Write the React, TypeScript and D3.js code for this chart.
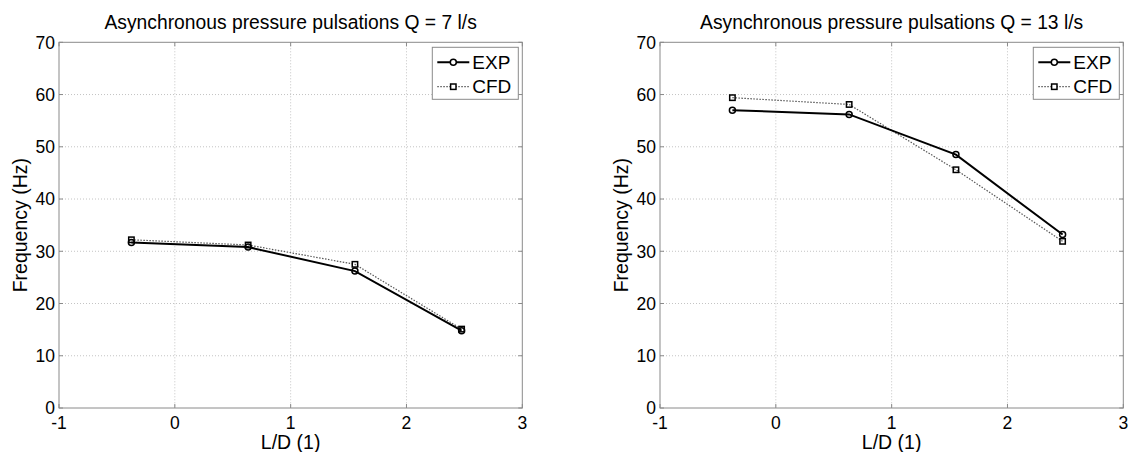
import React from "react";
import * as d3 from "d3";

// Measurement positions along the draft tube (L/D) and the dominant
// asynchronous pulsation frequencies measured (EXP) and computed (CFD).
const positions = [-0.375, 0.633, 1.555, 2.476];
const exp7 = [31.7, 30.8, 26.2, 14.8];
const cfd7 = [32.2, 31.2, 27.5, 15.1];
const exp13 = [57.0, 56.2, 48.5, 33.2];
const cfd13 = [59.4, 58.1, 45.6, 31.9];

const xTicks = [-1, 0, 1, 2, 3];
const yTicks = [0, 10, 20, 30, 40, 50, 60, 70];
const seriesNames = ["EXP", "CFD"];
const panelTitles = [
  "Asynchronous pressure pulsations Q = 7 l/s",
  "Asynchronous pressure pulsations Q = 13 l/s",
];

const W = 1130;
const H = 452;
const FONT = "'Liberation Sans', Arial, Helvetica, sans-serif";
const AXIS_COLOR = "#8a8a8a";
const GRID_COLOR = "#c4c4c4";
const TICK_FONT = 17.5;
const LABEL_FONT = 19.5;
const LEGEND_FONT = 19;

type PanelProps = {
  left: number;
  title: string;
  exp: number[];
  cfd: number[];
};

function Panel({ left, title, exp, cfd }: PanelProps) {
  const top = 42.3;
  const bottom = 408;
  const right = left + 463.3;

  const x = d3.scaleLinear().domain([-1, 3]).range([left, right]);
  const y = d3.scaleLinear().domain([0, 70]).range([bottom, top]);

  const line = d3
    .line<[number, number]>()
    .x((d) => x(d[0]))
    .y((d) => y(d[1]));

  const expPts = positions.map((p, i) => [p, exp[i]] as [number, number]);
  const cfdPts = positions.map((p, i) => [p, cfd[i]] as [number, number]);

  const tickLen = 4;
  const cx = (left + right) / 2;
  const cy = (top + bottom) / 2;

  // legend box anchored to the upper right corner of the axes
  const lgW = 86;
  const lgH = 52;
  const lgX = right - 4 - lgW;
  const lgY = top + 5;

  return (
    <g>
      {/* grid */}
      {xTicks.slice(1, -1).map((t) => (
        <line
          key={"gx" + t}
          x1={x(t)}
          x2={x(t)}
          y1={top}
          y2={bottom}
          stroke={GRID_COLOR}
          strokeWidth={1}
          strokeDasharray="1,2"
        />
      ))}
      {yTicks.slice(1, -1).map((t) => (
        <line
          key={"gy" + t}
          x1={left}
          x2={right}
          y1={y(t)}
          y2={y(t)}
          stroke={GRID_COLOR}
          strokeWidth={1}
          strokeDasharray="1,2"
        />
      ))}

      {/* axes box */}
      <rect
        x={left}
        y={top}
        width={right - left}
        height={bottom - top}
        fill="none"
        stroke={AXIS_COLOR}
        strokeWidth={1}
      />

      {/* inward ticks on all four sides */}
      {xTicks.map((t) => (
        <g key={"tx" + t}>
          <line x1={x(t)} x2={x(t)} y1={bottom} y2={bottom - tickLen} stroke={AXIS_COLOR} />
          <line x1={x(t)} x2={x(t)} y1={top} y2={top + tickLen} stroke={AXIS_COLOR} />
          <text
            x={x(t)}
            y={428.5}
            textAnchor="middle"
            fontSize={TICK_FONT}
            fontFamily={FONT}
            fill="#000"
          >
            {t}
          </text>
        </g>
      ))}
      {yTicks.map((t) => (
        <g key={"ty" + t}>
          <line x1={left} x2={left + tickLen} y1={y(t)} y2={y(t)} stroke={AXIS_COLOR} />
          <line x1={right} x2={right - tickLen} y1={y(t)} y2={y(t)} stroke={AXIS_COLOR} />
          <text
            x={left - 4}
            y={y(t)}
            dy="0.36em"
            textAnchor="end"
            fontSize={TICK_FONT}
            fontFamily={FONT}
            fill="#000"
          >
            {t}
          </text>
        </g>
      ))}

      {/* series */}
      <path
        d={line(cfdPts) ?? ""}
        fill="none"
        stroke="#555"
        strokeWidth={1.2}
        strokeDasharray="1.5,1.5"
      />
      <path d={line(expPts) ?? ""} fill="none" stroke="#000" strokeWidth={2} />
      {cfdPts.map((d, i) => (
        <rect
          key={"cm" + i}
          x={x(d[0]) - 2.7}
          y={y(d[1]) - 2.7}
          width={5.4}
          height={5.4}
          fill="none"
          stroke="#000"
          strokeWidth={1.5}
        />
      ))}
      {expPts.map((d, i) => (
        <circle
          key={"em" + i}
          cx={x(d[0])}
          cy={y(d[1])}
          r={3}
          fill="none"
          stroke="#000"
          strokeWidth={1.5}
        />
      ))}

      {/* labels */}
      <text
        x={cx}
        y={28.5}
        textAnchor="middle"
        fontSize={19.3}
        fontFamily={FONT}
        fill="#000"
      >
        {title}
      </text>
      <text
        x={cx}
        y={449}
        textAnchor="middle"
        fontSize={LABEL_FONT}
        fontFamily={FONT}
        fill="#000"
      >
        L/D (1)
      </text>
      <text
        transform={`translate(${left - 32.3},${cy}) rotate(-90)`}
        textAnchor="middle"
        fontSize={LABEL_FONT}
        fontFamily={FONT}
        fill="#000"
      >
        Frequency (Hz)
      </text>

      {/* legend */}
      <rect x={lgX} y={lgY} width={lgW} height={lgH} fill="#fff" stroke={AXIS_COLOR} strokeWidth={1} />
      <line x1={lgX + 5} x2={lgX + 37} y1={lgY + 15} y2={lgY + 15} stroke="#000" strokeWidth={2} />
      <circle cx={lgX + 21} cy={lgY + 15} r={3} fill="#fff" stroke="#000" strokeWidth={1.5} />
      <text x={lgX + 40} y={lgY + 21.7} fontSize={LEGEND_FONT} fontFamily={FONT} fill="#000">
        {seriesNames[0]}
      </text>
      <line
        x1={lgX + 5}
        x2={lgX + 37}
        y1={lgY + 39.4}
        y2={lgY + 39.4}
        stroke="#555"
        strokeWidth={1.2}
        strokeDasharray="1.5,1.5"
      />
      <rect x={lgX + 18.3} y={lgY + 36.7} width={5.4} height={5.4} fill="#fff" stroke="#000" strokeWidth={1.5} />
      <text x={lgX + 40} y={lgY + 46} fontSize={LEGEND_FONT} fontFamily={FONT} fill="#000">
        {seriesNames[1]}
      </text>
    </g>
  );
}

export default function App() {
  return (
    <svg
      width={W}
      height={H}
      viewBox={`0 0 ${W} ${H}`}
      style={{ position: "absolute", left: 0, top: 0, background: "#fff" }}
    >
      <rect x={0} y={0} width={W} height={H} fill="#fff" />
      <Panel left={59} title={panelTitles[0]} exp={exp7} cfd={cfd7} />
      <Panel left={660} title={panelTitles[1]} exp={exp13} cfd={cfd13} />
    </svg>
  );
}
